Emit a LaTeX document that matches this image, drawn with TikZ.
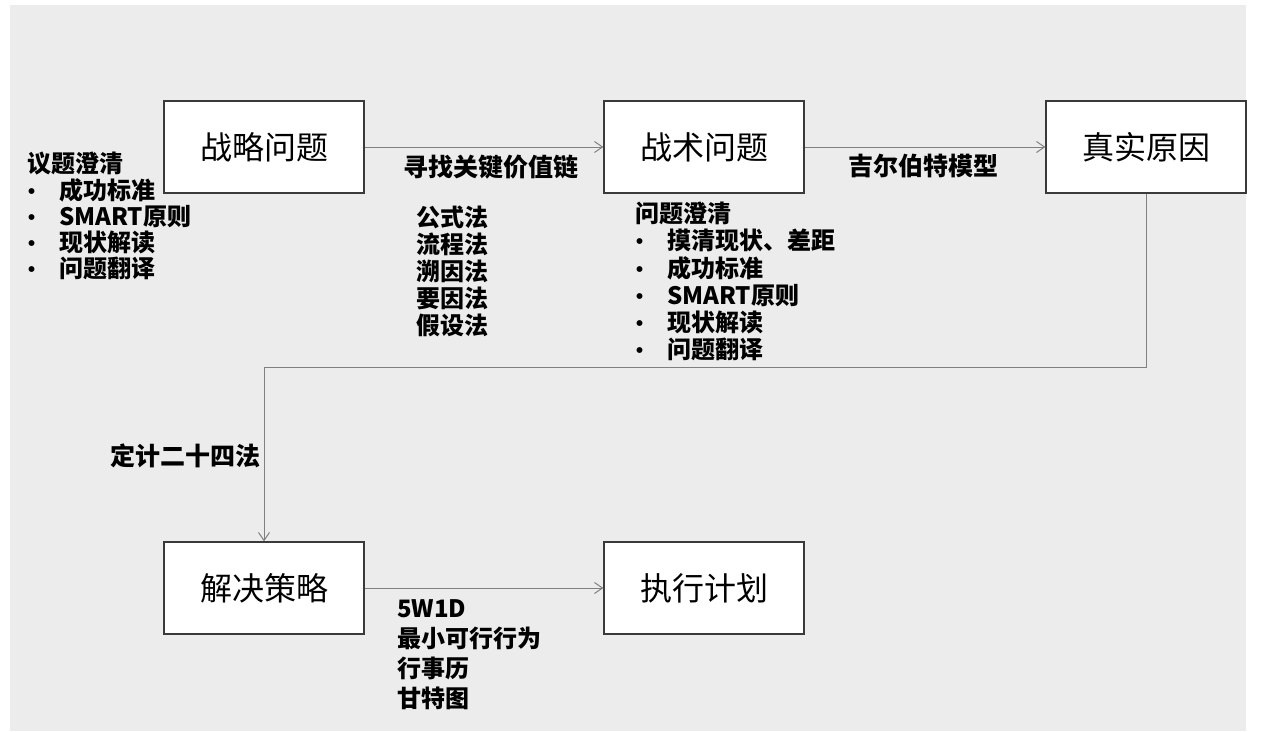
\documentclass[tikz,border=0pt]{standalone}
\usepackage{fontspec}
\setmainfont{Noto Sans CJK SC}
\usetikzlibrary{arrows.meta}
\definecolor{bggray}{HTML}{ECECEC}
\definecolor{linegray}{HTML}{808080}
\definecolor{boxline}{HTML}{3A3A3A}
\tikzset{
  stagebox/.style={draw=boxline, line width=1.3pt, fill=white, minimum width=200pt, minimum height=92pt, inner sep=0pt,
    font=\fontsize{32}{38}\selectfont},
  conn/.style={draw=linegray, line width=1pt, -{Straight Barb[length=8pt,width=11pt]}},
  lbl/.style={inner sep=0pt, font=\bfseries\fontsize{25}{27}\selectfont},
  lst/.style={inner sep=0pt, align=left, anchor=north west},
}
\newcommand{\bul}{\hspace{-6pt}\makebox[38pt][l]{\fontsize{21}{21}\selectfont•}}
\begin{document}
\begin{tikzpicture}[x=1pt,y=-1pt]
\useasboundingbox (0,0) rectangle (1261,731);
\fill[white] (0,0) rectangle (1261,731);
\fill[bggray] (10,5) rectangle (1246,731);

\node[stagebox] (s1) at (264,147) {战略问题};
\node[stagebox] (s2) at (704,147) {战术问题};
\node[stagebox] (s3) at (1146,147) {真实原因};
\node[stagebox] (s4) at (264,588) {解决策略};
\node[stagebox] (s5) at (704,588) {执行计划};

\draw[conn] (s1.east) -- (s2.west);
\draw[conn] (s2.east) -- (s3.west);
\draw[conn] (s3.south) -- ++(0,174) -| (s4.north);
\draw[conn] (s4.east) -- (s5.west);

\node[lbl, anchor=base west] (l1) at (403,176) {寻找关键价值链};
\node[lbl, anchor=base west] (l2) at (848,175) {吉尔伯特模型};
\node[lbl, anchor=base west] (l3) at (110,465) {定计二十四法};

\node[lbl, lst, font=\bfseries\fontsize{24}{26.3}\selectfont] (t1) at (27,152)
  {议题澄清\\\bul 成功标准\\\bul SMART原则\\\bul 现状解读\\\bul 问题翻译};
\node[lbl, lst, font=\bfseries\fontsize{24}{27}\selectfont] (t2) at (416,206)
  {公式法\\流程法\\溯因法\\要因法\\假设法};
\node[lbl, lst, font=\bfseries\fontsize{24}{27.2}\selectfont] (t3) at (635,202)
  {问题澄清\\\bul 摸清现状、差距\\\bul 成功标准\\\bul SMART原则\\\bul 现状解读\\\bul 问题翻译};
\node[lbl, lst, font=\bfseries\fontsize{24}{30}\selectfont] (t4) at (397,599)
  {5W1D\\最小可行行为\\行事历\\甘特图};
\end{tikzpicture}
\end{document}
